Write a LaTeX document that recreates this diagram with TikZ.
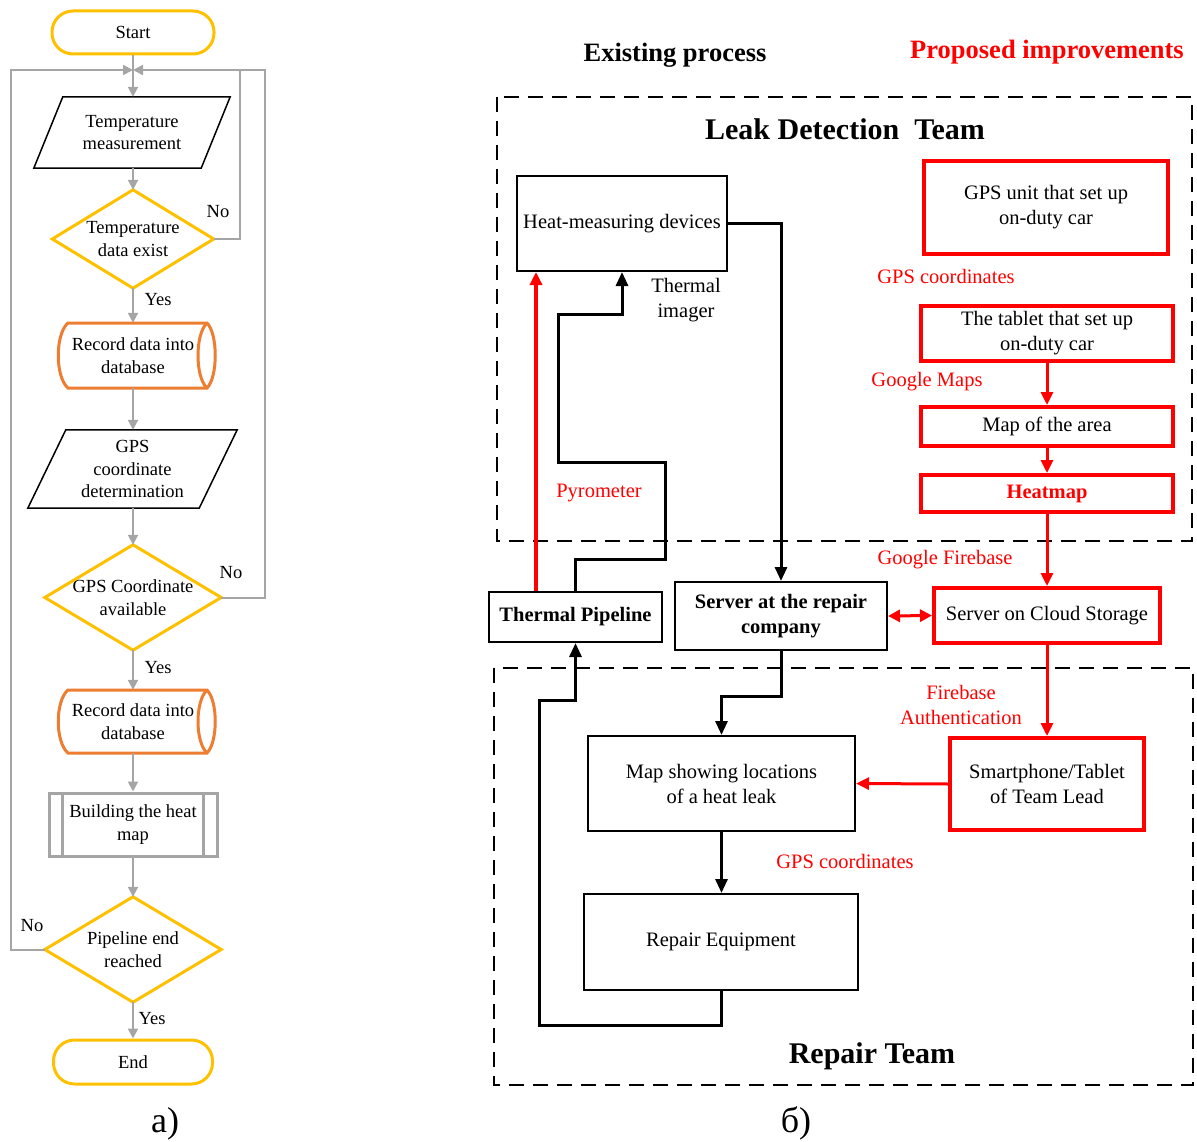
\documentclass[tikz,border=0pt]{standalone}
\usepackage{fontspec}
\setmainfont{Liberation Serif}
\usetikzlibrary{arrows.meta,calc}
\definecolor{gold}{HTML}{FFC000}
\definecolor{orng}{HTML}{ED7D31}
\definecolor{grayline}{HTML}{A5A5A5}
\definecolor{pured}{HTML}{FF0000}
\begin{document}
\begin{tikzpicture}[x=1pt,y=-1pt,
  lt/.style={font=\fontsize{18.5}{22.5}\selectfont, align=center, inner sep=0pt},
  rt/.style={font=\fontsize{20.5}{25}\selectfont, align=center, inner sep=0pt},
  terminal/.style={lt, draw=gold, line width=3pt, rounded corners=21pt},
  goldline/.style={draw=gold, line width=3pt, line join=miter},
  thinblack/.style={draw=black, line width=1.5pt},
  garrow/.style={draw=grayline, line width=2pt, -{Triangle[length=10pt,width=10pt]}},
  gline/.style={draw=grayline, line width=2pt},
  blkbox/.style={rt, draw, line width=2pt},
  redbox/.style={rt, draw=pured, line width=4pt},
  barrow/.style={draw, line width=3pt, -{Triangle[length=14pt,width=12pt]}},
  rarrow/.style={draw=pured, line width=3pt, -{Triangle[length=13pt,width=12pt]}, pured},
  rdarrow/.style={draw=pured, line width=3pt, {Triangle[length=12pt,width=12pt]}-{Triangle[length=12pt,width=12pt]}, pured},
  rlabel/.style={rt, text=pured},
  teamframe/.style={draw, line width=2pt, dash pattern=on 15pt off 9pt},
  heading/.style={font=\fontsize{26.5}{30}\selectfont\bfseries, inner sep=0pt},
  teamtitle/.style={font=\fontsize{30}{34}\selectfont\bfseries, inner sep=0pt},
  caption/.style={font=\fontsize{36}{40}\selectfont, inner sep=0pt, anchor=base}
]
\useasboundingbox (0,0) rectangle (1197,1142);

% ---------------- a) flowchart ----------------
\node[terminal, minimum width=162pt, minimum height=43pt] (start) at (133,32.5) {Start};

\node[lt, minimum width=196pt, minimum height=71pt] (p1) at (132,132.5) {Temperature\\measurement};
\draw[thinblack] (p1.south west) -- ([xshift=-29pt]p1.south east) -- (p1.north east)
  -- ([xshift=29pt]p1.north west) -- cycle;

\node[lt, minimum width=161pt, minimum height=98pt] (d1) at (133,239) {Temperature\\data exist};
\draw[goldline] (d1.north) -- (d1.east) -- (d1.south) -- (d1.west) -- cycle;

\node[lt, minimum width=150pt, minimum height=65pt] (r1) at (133,355.5) {Record data into\\database};
\draw[draw=orng, line width=3pt] (68,323) -- (207,323)
  .. controls (218,334) and (218,377) .. (207,388) -- (68,388)
  .. controls (55,377) and (55,334) .. (68,323) -- cycle;
\draw[draw=orng, line width=3pt] (207,323) .. controls (195,334) and (195,377) .. (207,388);

\node[lt, minimum width=209pt, minimum height=78pt] (p2) at (132.5,469) {GPS\\coordinate\\determination};
\draw[thinblack] (p2.south west) -- ([xshift=-38pt]p2.south east) -- (p2.north east)
  -- ([xshift=38pt]p2.north west) -- cycle;

\node[lt, minimum width=176pt, minimum height=105pt] (d2) at (133,597.5) {GPS Coordinate\\available};
\draw[goldline] (d2.north) -- (d2.east) -- (d2.south) -- (d2.west) -- cycle;

\node[lt, minimum width=150pt, minimum height=63pt] (r2) at (133,721.5) {Record data into\\database};
\draw[draw=orng, line width=3pt] (68,690) -- (207,690)
  .. controls (218,701) and (218,742) .. (207,753) -- (68,753)
  .. controls (55,742) and (55,701) .. (68,690) -- cycle;
\draw[draw=orng, line width=3pt] (207,690) .. controls (195,701) and (195,742) .. (207,753);

\node[lt, draw=grayline, line width=3pt, minimum width=168pt, minimum height=63pt] (hb) at (133,824.5) {Building the heat\\map};
\draw[gline, line width=3pt] ([xshift=15pt]hb.north west) -- ([xshift=15pt]hb.south west);
\draw[gline, line width=3pt] ([xshift=-15pt]hb.north east) -- ([xshift=-15pt]hb.south east);

\node[lt, minimum width=176pt, minimum height=105pt] (d3) at (133,949.5) {Pipeline end\\reached};
\draw[goldline] (d3.north) -- (d3.east) -- (d3.south) -- (d3.west) -- cycle;

\node[terminal, minimum width=159pt, minimum height=44pt] (end) at (133,1062) {End};

% flow connectors
\coordinate (jn) at (133,70);
\draw[garrow] (start.south) -- (start.south |- p1.north);
\draw[garrow] (d1.north |- p1.south) -- (d1.north);
\draw[garrow] (d1.south) -- (d1.south |- r1.north);
\draw[garrow] (r1.south) -- (r1.south |- p2.north);
\draw[garrow] (d2.north |- p2.south) -- (d2.north);
\draw[garrow] (d2.south) -- (d2.south |- r2.north);
\draw[garrow] (r2.south) -- (hb.north);
\draw[garrow] (hb.south) -- (d3.north);
\draw[garrow] (d3.south) -- (end.north);

% loops back to the measurement step
\draw[garrow] (d1.east) -- (240,239) -- (240,70) -- (jn);
\draw[gline] (d2.east) -- (265,597.5) -- (265,70) -- (240,70);
\draw[garrow] (d3.west) -- (11,949.5) -- (11,70) -- (jn);

% branch labels
\node[lt] (no1) at (218,212) {No};
\node[lt] (yes1) at (158,300) {Yes};
\node[lt] (no2) at (231,573) {No};
\node[lt] (yes2) at (158,668) {Yes};
\node[lt] (no3) at (32,926) {No};
\node[lt] (yes3) at (152,1019) {Yes};

\node[caption] (capa) at (165,1132) {a)};

% ---------------- б) process scheme ----------------
\node[heading] (hexist) at (675,55) {Existing process};
\node[heading, text=pured] (hprop) at (1047,52) {Proposed improvements};

\draw[teamframe] (497,97) rectangle (1192,541);
\draw[teamframe] (494,668) rectangle (1193,1085);
\node[teamtitle] (tleak) at (845,129) {Leak Detection\ \ Team};
\node[teamtitle] (trep) at (872,1056) {Repair Team};

% existing process boxes
\node[blkbox, minimum width=210pt, minimum height=95pt] (hm) at (622,223.5) {Heat-measuring devices};
\node[blkbox, font=\fontsize{20.5}{25}\selectfont\bfseries, minimum width=173pt, minimum height=50pt] (tp) at (575.5,617) {Thermal Pipeline};
\node[blkbox, font=\fontsize{20.5}{25}\selectfont\bfseries, minimum width=212pt, minimum height=68pt] (srv) at (781,616) {Server at the repair\\company};
\node[blkbox, minimum width=267pt, minimum height=95pt] (map) at (721.5,783.5) {Map showing locations\\of a heat leak};
\node[blkbox, minimum width=274pt, minimum height=96pt] (rep) at (721,942) {Repair Equipment};

% proposed improvement boxes
\node[redbox, minimum width=244pt, minimum height=93pt] (gps) at (1046,207.5) {GPS unit that set up\\on-duty car};
\node[redbox, minimum width=252pt, minimum height=55pt] (tab) at (1047,333.5) {The tablet that set up\\on-duty car};
\node[redbox, minimum width=252pt, minimum height=39pt] (moa) at (1047,426.5) {Map of the area};
\node[redbox, font=\fontsize{20.5}{25}\selectfont\bfseries, text=pured, minimum width=252pt, minimum height=37pt] (heat) at (1047,493.5) {Heatmap};
\node[redbox, minimum width=226pt, minimum height=55pt] (cloud) at (1047,615.5) {Server on Cloud Storage};
\node[redbox, minimum width=194pt, minimum height=92pt] (sp) at (1047,784) {Smartphone/Tablet\\of Team Lead};

% labels on the links
\node[rt] (limager) at (686,300.5) {Thermal\\imager};
\node[rlabel] (lpyro) at (599,493) {Pyrometer};
\node[rlabel] (lgps1) at (946,276) {GPS coordinates};
\node[rlabel] (lgmaps) at (927,382) {Google Maps};
\node[rlabel] (lfire) at (945,560) {Google Firebase};
\node[rlabel] (lauth) at (961,704.5) {Firebase\\Authentication};
\node[rlabel] (lgps2) at (845,861) {GPS coordinates};

% existing process links
\draw[barrow] (hm.east) -| (srv.north);
\draw[rarrow, line width=4pt] ([xshift=-39.5pt]tp.north) -- ([xshift=-39.5pt]tp.north |- hm.south);
\draw[barrow] (tp.north) |- (665,559) |- (558,462) |- ($(hm.south)+(0,42)$) -- (hm.south);
\draw[barrow] (srv.south) |- ($(map.north)+(0,-39)$) -- (map.north);
\draw[barrow] (map.south) -- (map.south |- rep.north);
\draw[barrow] (rep.south) -- ++(0,34) -| (539,700) -| (tp.south);

% proposed links
\draw[rarrow] (tab.south) -- (moa.north);
\draw[rarrow] (moa.south) -- (heat.north);
\draw[rarrow] (heat.south) -- (cloud.north);
\draw[rdarrow] (srv.east) -- (cloud.west);
\draw[rarrow] (cloud.south) -- (sp.north);
\draw[rarrow] (sp.west) -- (map.east);

\node[caption] (capb) at (796,1132) {б)};
\end{tikzpicture}
\end{document}
